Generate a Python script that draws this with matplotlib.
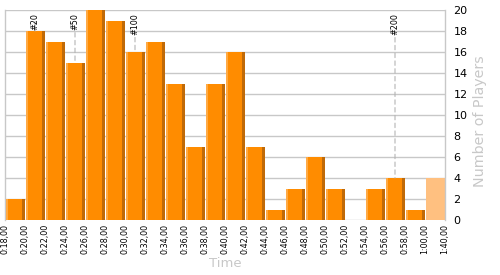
import matplotlib
matplotlib.use("Agg")
import matplotlib.pyplot as plt
import numpy as np

# ---- data ----
edge_labels = ["0:18,00", "0:20,00", "0:22,00", "0:24,00", "0:26,00", "0:28,00",
               "0:30,00", "0:32,00", "0:34,00", "0:36,00", "0:38,00", "0:40,00",
               "0:42,00", "0:44,00", "0:46,00", "0:48,00", "0:50,00", "0:52,00",
               "0:54,00", "0:56,00", "0:58,00", "1:00,00", "1:40,00"]
counts = [2, 18, 17, 15, 20, 19, 16, 17, 13, 7, 13, 16, 7, 1, 3, 6, 3, 0, 3, 4, 1, 4]
highlight_last = True
rank_labels = ["#20", "#50", "#100", "#200"]
rank_bins = [1, 3, 6, 19]
y_ticks = [0, 2, 4, 6, 8, 10, 12, 14, 16, 18, 20]

# ---- style ----
MAIN = "#FF8C00"
LIGHT = "#FFAA44"
DARK = "#C06A08"
LAST = "#FFC080"
GRID = "#C8C8C8"
LABEL = "#C8C8C8"

fig = plt.figure(figsize=(5, 2.75), dpi=100)
ax = fig.add_axes([5 / 500, 55 / 275, 440 / 500, 210 / 275])

n = len(counts)
x = np.arange(n)
gap = 0.05
w_main = 1.0 - gap
for i, v in enumerate(counts):
    if highlight_last and i == n - 1:
        ax.bar(i + gap, v, width=w_main, align="edge", color=LAST, linewidth=0, zorder=2)
        continue
    ax.bar(i + gap, v, width=w_main, align="edge", color=MAIN, linewidth=0, zorder=2)
    ax.bar(i + gap, v, width=0.1, align="edge", color=LIGHT, linewidth=0, zorder=3)
    ax.bar(i + 0.83, v, width=0.17, align="edge", color=DARK, linewidth=0, zorder=3)

for lab, b in zip(rank_labels, rank_bins):
    ax.annotate(lab, xy=(b + 0.5, counts[b]), xytext=(b + 0.5, 19.72),
                textcoords="data", rotation=90, ha="center", va="top",
                fontsize=5.8, color="black", zorder=5,
                arrowprops=dict(arrowstyle="-", color="#B4B4B4", lw=0.8,
                                linestyle=(0, (4, 3)), shrinkA=0, shrinkB=0))

ax.set_xlim(0, n)
ax.set_ylim(0, 20)
ax.set_xticks(np.arange(n + 1))
ax.set_xticklabels(edge_labels, rotation=90, fontsize=5.8)
ax.tick_params(axis="x", length=0, pad=3)

ax.yaxis.tick_right()
ax.set_yticks(y_ticks)
ax.tick_params(axis="y", length=0, pad=6, labelsize=8)

ax.set_axisbelow(True)
ax.yaxis.grid(True, color=GRID, linewidth=1)
ax.xaxis.grid(False)

for s in ["top", "bottom"]:
    ax.spines[s].set_visible(False)
for s in ["left", "right"]:
    ax.spines[s].set_color(GRID)
    ax.spines[s].set_linewidth(1)

ax.set_xlabel("Time", color=LABEL, fontsize=9.5)
ax.xaxis.set_label_coords(0.5, -0.175)
ax.yaxis.set_label_position("right")
ax.set_ylabel("Number of Players", color=LABEL, fontsize=10.3)
ax.yaxis.label.set_verticalalignment("center")
ax.yaxis.set_label_coords(1.08, 0.47)

fig.savefig("out.png", dpi=100)
